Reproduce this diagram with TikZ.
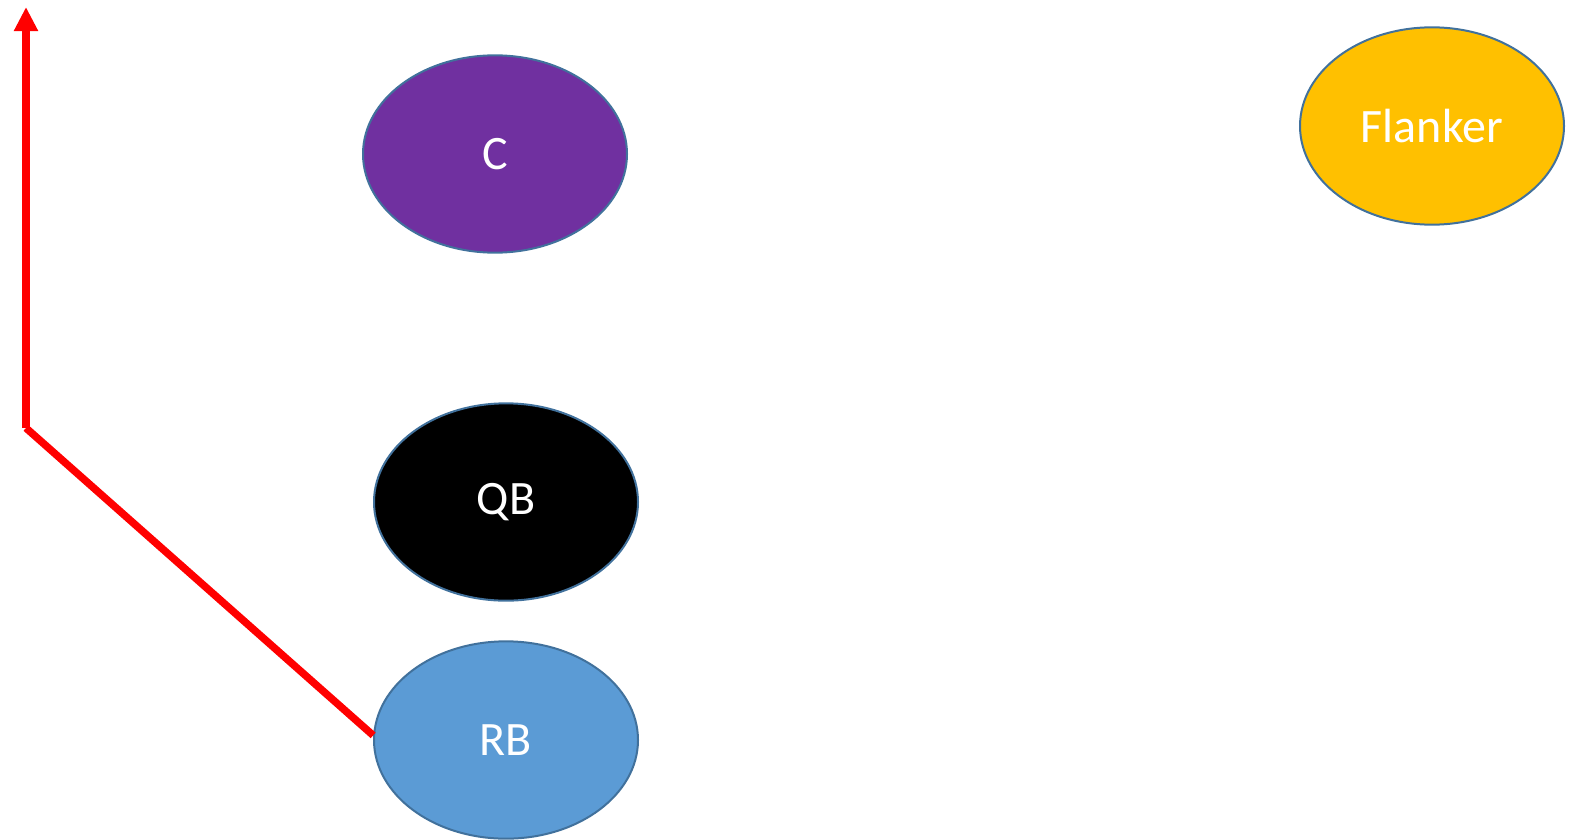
\documentclass[tikz,border=0pt]{standalone}
\usepackage{fontspec}
\setmainfont{Carlito}
\usetikzlibrary{shapes.geometric,arrows.meta}

\tikzset{
  player/.style={ellipse, draw=rimblue, line width=1.5pt, minimum width=198pt, minimum height=148pt,
    inner sep=0pt, text=white, font=\fontsize{36}{40}\selectfont},
  route/.style={draw=red, line width=5.6pt}
}
\definecolor{rimblue}{HTML}{41719C}
\definecolor{cpurple}{HTML}{7030A0}
\definecolor{flankgold}{HTML}{FFC000}
\definecolor{rbblue}{HTML}{5B9BD5}

\begin{document}
\begin{tikzpicture}[x=0.75pt,y=0.75pt,yscale=-1,xscale=1]
\useasboundingbox (0,0) rectangle (1580,839);

% Players
\node [player, fill=cpurple] (C) at (495,154) {C};
\node [player, fill=flankgold] (FL) at (1432,126) {Flanker};
\node [player, fill=black] (QB) at (506,502) {QB};
\node [player, fill=rbblue] (RB) at (506,740) {RB};

% Route of the RB
\coordinate (turn) at (26,428);
\coordinate (tip) at (26,7);
\draw [route] (RB.178) -- (turn);
\draw [route, -{Triangle[length=18pt,width=17pt]}] (turn) -- (tip);

\end{tikzpicture}
\end{document}
